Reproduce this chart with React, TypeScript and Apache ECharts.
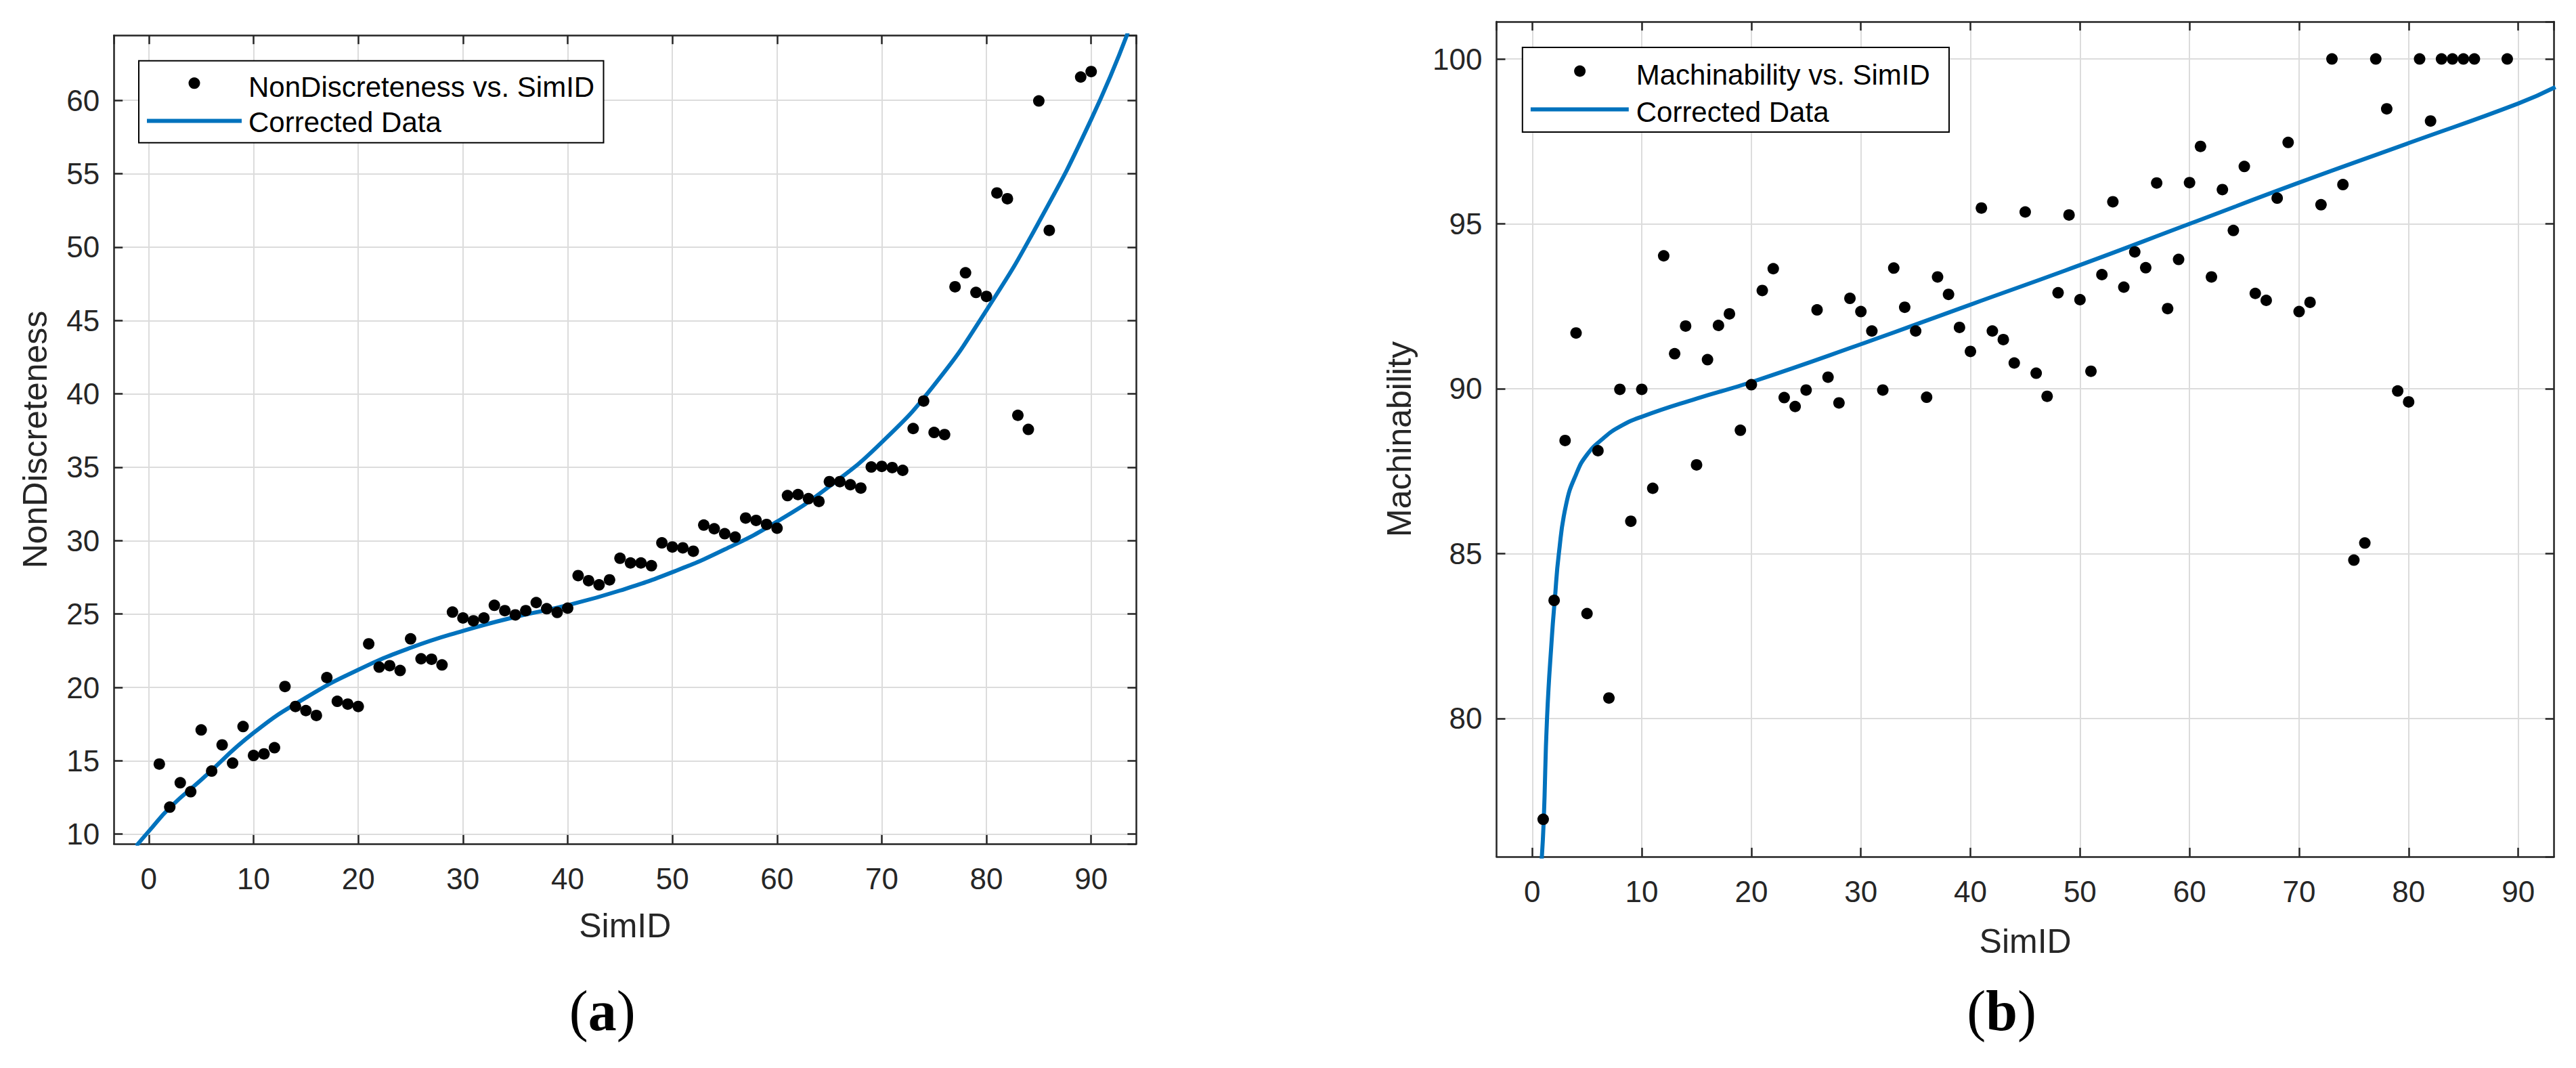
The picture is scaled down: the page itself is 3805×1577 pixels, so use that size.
import React, { useEffect, useRef } from 'react';
import * as echarts from 'echarts';

// ---- (a) NonDiscreteness vs. SimID ----
const ndX = [1,2,3,4,5,6,7,8,9,10,11,12,13,14,15,16,17,18,19,20,21,22,23,24,25,26,27,28,29,30,31,32,33,34,35,36,37,38,39,40,41,42,43,44,45,46,47,48,49,50,51,52,53,54,55,56,57,58,59,60,61,62,63,64,65,66,67,68,69,70,71,72,73,74,75,76,77,78,79,80,81,82,83,84,85,86,89,90];
const ndY = [14.78,11.84,13.5,12.89,17.1,14.3,16.08,14.84,17.33,15.36,15.47,15.89,20.06,18.7,18.42,18.09,20.67,19.05,18.86,18.7,22.97,21.38,21.48,21.15,23.31,21.95,21.92,21.53,25.13,24.73,24.54,24.73,25.59,25.23,24.94,25.23,25.78,25.36,25.11,25.4,27.62,27.27,26.99,27.33,28.8,28.48,28.48,28.29,29.85,29.57,29.51,29.28,31.06,30.81,30.47,30.24,31.54,31.38,31.1,30.85,33.07,33.14,32.86,32.67,34.02,34.02,33.81,33.58,35.02,35.06,34.98,34.79,37.64,39.51,37.37,37.23,47.3,48.25,46.91,46.64,53.69,53.3,38.54,37.58,59.96,51.14,61.59,61.96];
const ndFitX = [-1.2,0,2,5,10,15,20,25,30,35,40,45,50,55,60,65,70,75,80,85,90,93.5];
const ndFitY = [9.2,10.2,11.8,13.7,16.9,19.3,21.2,22.7,23.85,24.8,25.6,26.6,27.85,29.4,31.3,33.7,36.7,40.6,45.7,51.7,58.7,64.6];

// ---- (b) Machinability vs. SimID ----
const mX = [1,2,3,4,5,6,7,8,9,10,11,12,13,14,15,16,17,18,19,20,21,22,23,24,25,26,27,28,29,30,31,32,33,34,35,36,37,38,39,40,41,42,43,44,45,46,47,48,49,50,51,52,53,54,55,56,57,58,59,60,61,62,63,64,65,66,67,68,69,70,71,72,73,74,75,76,77,78,79,80,81,82,83,84,85,86,89];
const mY = [76.94,83.58,88.43,91.69,83.18,88.12,80.62,89.98,85.98,89.98,86.98,94.03,91.06,91.9,87.69,90.88,91.92,92.27,88.74,90.12,92.98,93.64,89.73,89.46,89.96,92.39,90.35,89.57,92.74,92.34,91.75,89.96,93.66,92.47,91.75,89.74,93.39,92.86,91.86,91.13,95.48,91.75,91.49,90.78,95.36,90.47,89.77,92.91,95.27,92.7,90.53,93.46,95.67,93.08,94.15,93.67,96.24,92.43,93.92,96.25,97.35,93.39,96.04,94.8,96.74,92.89,92.68,95.78,97.47,92.34,92.62,95.58,100,96.19,84.8,85.32,100,98.49,89.93,89.6,100,98.12,100,100,100,100,100];
const mFitX = [0.84,1.05,1.35,1.8,2.06,2.43,3.1,4,5,6.5,8,10,15,20,30,40,50,60,70,80,90,93.4];
const mFitY = [75.6,76.9,80.0,82.5,83.6,85.0,86.5,87.4,88.0,88.5,88.85,89.15,89.7,90.2,91.35,92.55,93.75,95.0,96.25,97.45,98.65,99.15];

// axis extents
const ndXRange = [-3.34, 94.31];
const ndYRange = [9.35, 64.43];
const mXRange = [-3.26, 93.28];
const mYRange = [75.81, 101.13];

const FONT = '"Liberation Sans", Arial, Helvetica, sans-serif';
const SERIF = '"Liberation Serif", "Times New Roman", serif';
const AXIS_COLOR = '#262626';
const GRID_COLOR = '#dcdcdc';
const BLUE = '#0072BD';

const pairs = (xs: number[], ys: number[]) => xs.map((x, i) => [x, ys[i]]);

function mainAxis(kind: 'x' | 'y', gridIndex: number, range: number[], splitNumber: number, name: string, nameGap: number, labelMargin: number) {
  return {
    type: 'value',
    gridIndex,
    min: range[0],
    max: range[1],
    splitNumber,
    position: kind === 'x' ? 'bottom' : 'left',
    name,
    nameLocation: 'middle',
    nameGap,
    nameRotate: kind === 'y' ? 90 : 0,
    nameMoveOverlap: false,
    nameTextStyle: { fontFamily: FONT, fontSize: 50, color: AXIS_COLOR },
    axisLine: { show: true, onZero: false, lineStyle: { color: AXIS_COLOR, width: 2.5 } },
    axisTick: { show: true, inside: true, length: 13, lineStyle: { color: AXIS_COLOR, width: 2.5 } },
    axisLabel: {
      show: true, margin: labelMargin, fontFamily: FONT, fontSize: 44, color: AXIS_COLOR,
      showMinLabel: false, showMaxLabel: false,
    },
    splitLine: { show: true, lineStyle: { color: GRID_COLOR, width: 2 } },
  };
}

function boxAxis(kind: 'x' | 'y', gridIndex: number, range: number[], splitNumber: number) {
  return {
    type: 'value',
    gridIndex,
    min: range[0],
    max: range[1],
    splitNumber,
    position: kind === 'x' ? 'top' : 'right',
    axisLine: { show: true, onZero: false, lineStyle: { color: AXIS_COLOR, width: 2.5 } },
    axisTick: { show: true, inside: true, length: 13, lineStyle: { color: AXIS_COLOR, width: 2.5 } },
    axisLabel: { show: false },
    splitLine: { show: false },
  };
}

function legendGraphics(box: number[], marker: number[], line: number[], textX: number, textY1: number, textY2: number, label1: string) {
  const txt = (t: string, y: number) => ({
    type: 'text', x: textX, y, z: 101, silent: true,
    style: { text: t, fill: '#000', fontFamily: FONT, fontSize: 42, textAlign: 'left', textVerticalAlign: 'middle', verticalAlign: 'middle' },
  });
  return [
    { type: 'rect', z: 100, silent: true, shape: { x: box[0], y: box[1], width: box[2], height: box[3] }, style: { fill: '#fff', stroke: '#000', lineWidth: 2 } },
    { type: 'circle', z: 101, silent: true, shape: { cx: marker[0], cy: marker[1], r: 8.5 }, style: { fill: '#000' } },
    { type: 'line', z: 101, silent: true, shape: { x1: line[0], y1: line[2], x2: line[1], y2: line[2] }, style: { stroke: BLUE, lineWidth: 6 } },
    txt(label1, textY1),
    txt('Corrected Data', textY2),
  ];
}

function panelLabel(letter: string, x: number, y: number) {
  return {
    type: 'text', x, y, z: 101, silent: true,
    style: {
      text: '(' + '{b|' + letter + '})',
      fill: '#000', fontFamily: SERIF, fontSize: 84,
      textAlign: 'center', textVerticalAlign: 'middle', verticalAlign: 'middle',
      rich: { b: { fontFamily: SERIF, fontSize: 84, fontWeight: 'bold', fill: '#000' } },
    },
  };
}

export default function App() {
  const ref = useRef<HTMLDivElement>(null);
  useEffect(() => {
    const chart = echarts.init(ref.current!, null, { renderer: 'svg' });
    const option: any = {
      animation: false,
      backgroundColor: '#ffffff',
      textStyle: { fontFamily: FONT },
      grid: [
        { left: 168.2, top: 52.2, width: 1510.2, height: 1193.6, containLabel: false, outerBoundsMode: 'none' },
        { left: 2210.5, top: 32.1, width: 1562.2, height: 1232.7, containLabel: false, outerBoundsMode: 'none' },
      ],
      xAxis: [
        mainAxis('x', 0, ndXRange, 10, 'SimID', 96, 30),
        boxAxis('x', 0, ndXRange, 10),
        mainAxis('x', 1, mXRange, 10, 'SimID', 100, 30),
        boxAxis('x', 1, mXRange, 10),
      ],
      yAxis: [
        mainAxis('y', 0, ndYRange, 11, 'NonDiscreteness', 91, 21),
        boxAxis('y', 0, ndYRange, 11),
        mainAxis('y', 1, mYRange, 5, 'Machinability', 119, 21),
        boxAxis('y', 1, mYRange, 5),
      ],
      series: [
        {
          name: 'Corrected Data', type: 'line', xAxisIndex: 0, yAxisIndex: 0,
          data: pairs(ndFitX, ndFitY), showSymbol: false, symbol: 'none', smooth: 0.5,
          lineStyle: { color: BLUE, width: 6 }, clip: true, silent: true, z: 2,
        },
        {
          name: 'NonDiscreteness vs. SimID', type: 'scatter', xAxisIndex: 0, yAxisIndex: 0,
          data: pairs(ndX, ndY), symbol: 'circle', symbolSize: 17, itemStyle: { color: '#000', opacity: 1 }, silent: true, z: 3,
        },
        {
          name: 'Corrected Data', type: 'line', xAxisIndex: 2, yAxisIndex: 2,
          data: pairs(mFitX, mFitY), showSymbol: false, symbol: 'none', smooth: 0.5,
          lineStyle: { color: BLUE, width: 6 }, clip: true, silent: true, z: 2,
        },
        {
          name: 'Machinability vs. SimID', type: 'scatter', xAxisIndex: 2, yAxisIndex: 2,
          data: pairs(mX, mY), symbol: 'circle', symbolSize: 17, itemStyle: { color: '#000', opacity: 1 }, silent: true, z: 3,
        },
      ],
      graphic: [
        ...legendGraphics([205, 89.7, 686.5, 121], [287, 122.8], [217, 357, 178.6], 367, 128.3, 180.6, 'NonDiscreteness vs. SimID'),
        ...legendGraphics([2248.8, 70, 630.2, 125], [2333.6, 105], [2260.9, 2405.8, 161.6], 2416.7, 110.5, 165.3, 'Machinability vs. SimID'),
        panelLabel('a', 889.7, 1492),
        panelLabel('b', 2956.7, 1492),
      ],
    };
    chart.setOption(option);
    return () => chart.dispose();
  }, []);
  return (
    <div
      ref={ref}
      style={{ position: 'absolute', left: 0, top: 0, width: 3805, height: 1577, background: '#fff' }}
    />
  );
}
